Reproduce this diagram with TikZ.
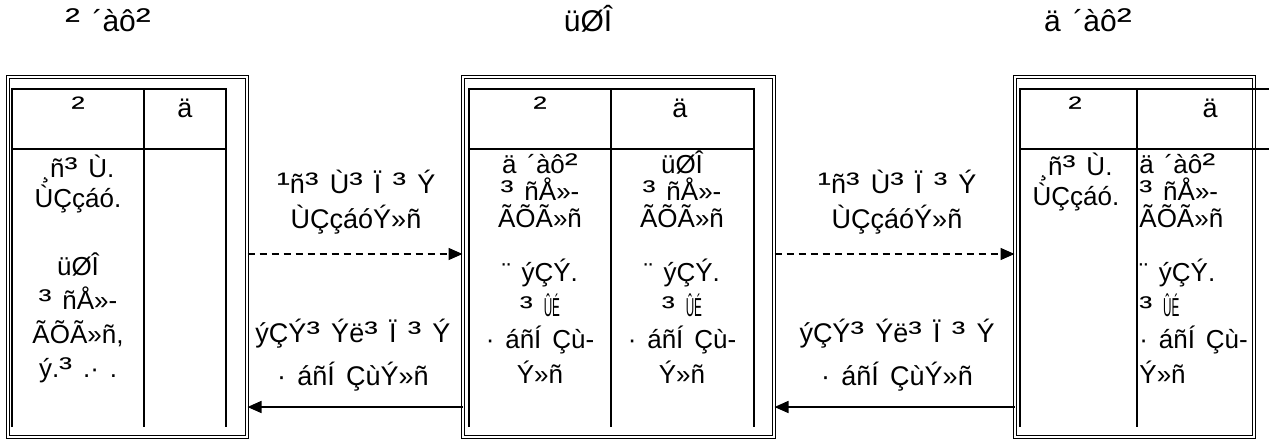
\documentclass[tikz,border=0pt]{standalone}
\usepackage{fontspec}
\setmainfont{Liberation Sans}[WordSpace=1.5]
\usetikzlibrary{arrows.meta,fit}
\newcommand\cellstrut{\rule{0pt}{13pt}}
\newcommand\narrow[1]{\scalebox{0.45}[1]{#1}}
\newcommand\supglyph[1]{\scalebox{1.5}[1.1]{\char#1}}
\catcode`\¹=\active \def¹{\supglyph{"B9}}
\catcode`\²=\active \def²{\supglyph{"B2}}
\catcode`\³=\active \def³{\supglyph{"B3}}

\begin{document}
\begin{tikzpicture}[x=0.5pt,y=-0.5pt,
        outer/.style={draw, double, line width=0.5pt, double distance=0.6pt, inner sep=0pt},
        grid/.style={line width=1pt},
        cell/.style={inner sep=0pt, anchor=north, font=\fontsize{13}{13.5}\selectfont},
        lbl/.style={inner sep=0pt, anchor=north, align=center},
        ttl/.style={anchor=base, inner sep=0pt, font=\fontsize{15}{17}\selectfont},
        hdr/.style={anchor=base, inner sep=0pt, font=\fontsize{13.5}{15}\selectfont},
        dasharr/.style={dash pattern=on 3.5pt off 2.5pt, line width=0.75pt, -{Triangle[length=7pt,width=6pt]}},
        solarr/.style={line width=0.75pt, -{Triangle[length=7pt,width=6pt]}}]
    \useasboundingbox (0,0) rectangle (1269,444);
    % titles
    \node[ttl] (ltitle) at (108,32) {² ´àô²};
    \node[ttl] (mtitle) at (588,32) {üØÎ};
    \node[ttl] (rtitle) at (1088,32) {ä ´àô²};
    % outer boxes
    \node[outer, fit={(8,77) (247,437)}] (lbox) {};
    \node[outer, fit={(463,77) (774,437)}] (mbox) {};
    \node[outer, fit={(1015,77) (1254,437)}] (rbox) {};
    % tables
    \draw[grid] (12,427) -- (12,89) -- (226,89) -- (226,427);
    \draw[grid] (12,149) -- (226,149);
    \draw[grid] (144,89) -- (144,427);
    \draw[grid] (469,427) -- (469,89) -- (754,89) -- (754,427);
    \draw[grid] (469,149) -- (754,149);
    \draw[grid] (611,89) -- (611,427);
    \draw[grid] (1020,427) -- (1020,89) -- (1269,89);
    \draw[grid] (1020,149) -- (1269,149);
    \draw[grid] (1137,89) -- (1137,427);
    % headers
    \node[hdr] (lhA) at (78,118) {²};
    \node[hdr] (lhB) at (185,118) {ä};
    \node[hdr] (mhA) at (540,118) {²};
    \node[hdr] (mhB) at (680,118) {ä};
    \node[hdr] (rhA) at (1075,118) {²};
    \node[hdr] (rhB) at (1210,118) {ä};
    % cells
    \node[cell, align=center] (lcA) at (78,151) {\cellstrut¸ñ³ Ù.\\ÙÇçáó.\\[19pt]üØÎ\\[3.5pt]³ ñÅ»-\\[3.5pt]ÃÕÃ»ñ,\\[3.5pt]ý.³ .· .};
    \node[cell, align=center] (mcA) at (540,147) {\cellstrut ä ´àô²\\³ ñÅ»-\\ÃÕÃ»ñ\\[13.5pt]¨ ýÇÝ.\\[2.5pt]³ \narrow{ÛÉ}\\[2.5pt]· áñÍ Çù-\\[2.5pt]Ý»ñ};
    \node[cell, align=center] (mcB) at (682,147) {\cellstrut üØÎ\\³ ñÅ»-\\ÃÕÃ»ñ\\[13.5pt]¨ ýÇÝ.\\[2.5pt]³ \narrow{ÛÉ}\\[2.5pt]· áñÍ Çù-\\[2.5pt]Ý»ñ};
    \node[cell, align=center] (rcA) at (1076,149) {\cellstrut¸ñ³ Ù.\\ÙÇçáó.};
    \node[cell, align=left, anchor=north west] (rcB) at (1139,147) {\cellstrut ä ´àô²\\³ ñÅ»-\\ÃÕÃ»ñ\\[13.5pt]¨ ýÇÝ.\\[2.5pt]³ \narrow{ÛÉ}\\[2.5pt]· áñÍ Çù-\\[2.5pt]Ý»ñ};
    % connectors
    \coordinate (upper) at (0,254);
    \coordinate (lower) at (0,407);
    \draw[dasharr] (lbox.east |- upper) -- (mbox.west |- upper);
    \draw[solarr] (mbox.west |- lower) -- (lbox.east |- lower);
    \draw[dasharr] (mbox.east |- upper) -- (rbox.west |- upper);
    \draw[solarr] (rbox.west |- lower) -- (mbox.east |- lower);
    % labels
    \node[lbl, font=\fontsize{13.5}{17.5}\selectfont] (req1) at (356,167) {\cellstrut¹ñ³ Ù³ Ï ³ Ý\\ÙÇçáóÝ»ñ};
    \node[lbl, font=\fontsize{13.5}{21.5}\selectfont] (fin1) at (353,316) {\cellstrut ýÇÝ³ Ýë³ Ï ³ Ý\\· áñÍ ÇùÝ»ñ};
    \node[lbl, font=\fontsize{13.5}{17.5}\selectfont] (req2) at (897,167) {\cellstrut¹ñ³ Ù³ Ï ³ Ý\\ÙÇçáóÝ»ñ};
    \node[lbl, font=\fontsize{13.5}{21.5}\selectfont] (fin2) at (897,316) {\cellstrut ýÇÝ³ Ýë³ Ï ³ Ý\\· áñÍ ÇùÝ»ñ};
\end{tikzpicture}
\end{document}
